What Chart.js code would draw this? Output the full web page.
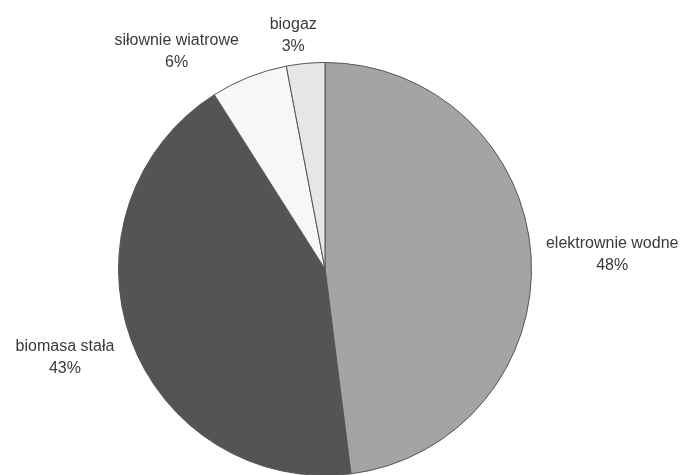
<!DOCTYPE html>
<html>
<head>
<meta charset="utf-8">
<script src="https://cdn.jsdelivr.net/npm/chart.js@4"></script>
<style>
  html, body { margin: 0; padding: 0; background: #fff; overflow: hidden; }
  #wrap { width: 682px; height: 480px; }
</style>
</head>
<body>
<div id="wrap"><canvas id="chartPie" width="682" height="480"></canvas></div>
<script>
// Dane
const categories = ["elektrownie wodne", "biomasa stała", "siłownie wiatrowe", "biogaz"];
const shares = [48, 43, 6, 3];
const percentLabels = ["48%", "43%", "6%", "3%"];

const sliceColors = ["#a4a4a4", "#545454", "#f7f7f7", "#e6e6e6"];
// przesunięcie etykiet (jak w oryginale, żeby się nie nachodziły)
const labelShiftX = [3, -8, -45, -9];
const labelShiftY = [0, 9, 2, 1];

const pieLabels = {
    id: "pieLabels",
    afterDatasetsDraw(chart) {
        const ctx = chart.ctx;
        const meta = chart.getDatasetMeta(0);
        ctx.save();
        ctx.font = "16px 'Liberation Sans', Arial, sans-serif";
        ctx.fillStyle = "#3a3a3a";
        ctx.textAlign = "center";
        ctx.textBaseline = "middle";
        meta.data.forEach((arc, i) => {
            const mid = (arc.startAngle + arc.endAngle) / 2;
            const dx = Math.cos(mid), dy = Math.sin(mid);
            const w = Math.max(ctx.measureText(categories[i]).width, ctx.measureText(percentLabels[i]).width);
            const r = arc.outerRadius + 12;
            const x = arc.x + dx * (r + w / 2) + labelShiftX[i];
            const y = arc.y + dy * (r + 17) + labelShiftY[i];
            ctx.fillText(categories[i], x, y - 11);
            ctx.fillText(percentLabels[i], x, y + 11);
        });
        ctx.restore();
    }
};

const chartPie = new Chart(document.getElementById("chartPie"), {
    type: "pie",
    data: {
        labels: categories,
        datasets: [{
            data: shares,
            backgroundColor: sliceColors,
            borderColor: "#555555",
            borderWidth: 1
        }]
    },
    options: {
        responsive: false,
        animation: false,
        layout: { padding: { left: 118, right: 150, top: 62, bottom: 4 } },
        plugins: {
            legend: { display: false },
            tooltip: { enabled: false }
        }
    },
    plugins: [pieLabels]
});
</script>
</body>
</html>
